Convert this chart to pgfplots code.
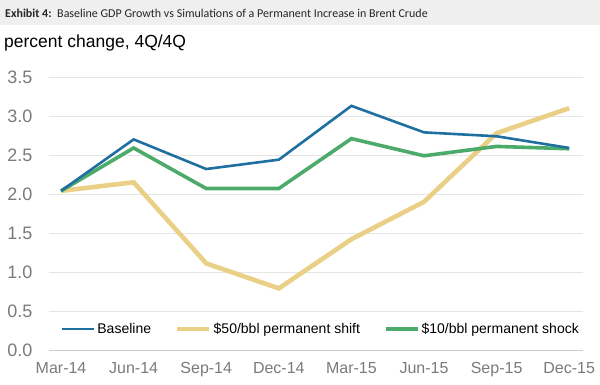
\documentclass[border=0pt]{standalone}
\usepackage{fontspec}
\setmainfont{Liberation Sans}
\newfontfamily\carlito{Carlito}
\usepackage{pgfplots}
\pgfplotsset{compat=1.18}
\definecolor{cblue}{HTML}{1F6FA0}
\definecolor{cgreen}{HTML}{4CAA6A}
\definecolor{cyellow}{HTML}{EACF86}
\definecolor{tickgray}{HTML}{7A7A7A}
\definecolor{barbg}{HTML}{EFEFEF}
\begin{document}
\begin{tikzpicture}[x=1pt,y=1pt]
\path[use as bounding box] (0,0) rectangle (600,385);
\fill[barbg] (0,360) rectangle (600,385);
\node[anchor=west,inner sep=0pt,text=black!85] at (5,371.5) {\carlito\fontsize{12}{14}\selectfont\textbf{Exhibit 4:}\, Baseline GDP Growth vs Simulations of a Permanent Increase in Brent Crude};
\node[anchor=west,inner sep=0pt] at (4,342) {\fontsize{17.5}{20}\selectfont percent change, 4Q/4Q};
\begin{axis}[
  at={(49pt,35pt)}, anchor=south west,
  width=534pt, height=273pt, scale only axis,
  xmin=-0.166, xmax=7.19, ymin=0, ymax=3.5,
  ytick={0,0.5,1,1.5,2,2.5,3,3.5},
  yticklabel style={/pgf/number format/fixed,/pgf/number format/fixed zerofill,/pgf/number format/precision=1},
  /pgf/number format/assume math mode=true,
  ymajorgrids, grid style={draw=black!10, line width=0.8pt},
  axis x line*=bottom, axis y line*=left,
  x axis line style={draw=black!20, line width=0.8pt, -},
  y axis line style={draw=none},
  ytick style={draw=none},
  xtick={0,1,2,3,4,5,6,7},
  xticklabels={Mar-14,Jun-14,Sep-14,Dec-14,Mar-15,Jun-15,Sep-15,Dec-15},
  xtick style={draw=none},
  extra x ticks={-0.166,0.834,1.834,2.834,3.834,4.834,5.834,6.834},
  extra x tick labels={},
  extra x tick style={tick style={draw=black!25, line width=0.8pt}, major tick length=4pt, tick align=outside},
  xticklabel style={font=\fontsize{16}{18}\selectfont, text=tickgray, yshift=-9pt},
  yticklabel style={font=\fontsize{18}{20}\selectfont, text=tickgray, xshift=-13pt},
  legend style={at={(0.509,0.077)}, anchor=center, legend columns=3, draw=none, fill=none,
    font=\fontsize{14}{16}\selectfont, /tikz/every even column/.append style={column sep=22pt},
    inner sep=0pt},
  legend cell align=left,
  legend image code/.code={\draw[#1] (0pt,0pt) -- (32pt,0pt);},
]
\addlegendimage{cblue, line width=2.6pt}
\addlegendentry{Baseline}
\addlegendimage{cyellow, line width=4.6pt}
\addlegendentry{\$50/bbl permanent shift}
\addlegendimage{cgreen, line width=3.6pt}
\addlegendentry{\$10/bbl permanent shock}
\addplot[cyellow, line width=4.6pt, forget plot] coordinates {(0,2.04) (1,2.15) (2,1.11) (3,0.79) (4,1.42) (5,1.90) (6,2.78) (7,3.10)};
\addplot[cgreen, line width=3.6pt, forget plot] coordinates {(0,2.04) (1,2.59) (2,2.07) (3,2.07) (4,2.71) (5,2.49) (6,2.61) (7,2.58)};
\addplot[cblue, line width=2.6pt, forget plot] coordinates {(0,2.04) (1,2.70) (2,2.32) (3,2.44) (4,3.13) (5,2.79) (6,2.74) (7,2.59)};
\end{axis}
\end{tikzpicture}
\end{document}
